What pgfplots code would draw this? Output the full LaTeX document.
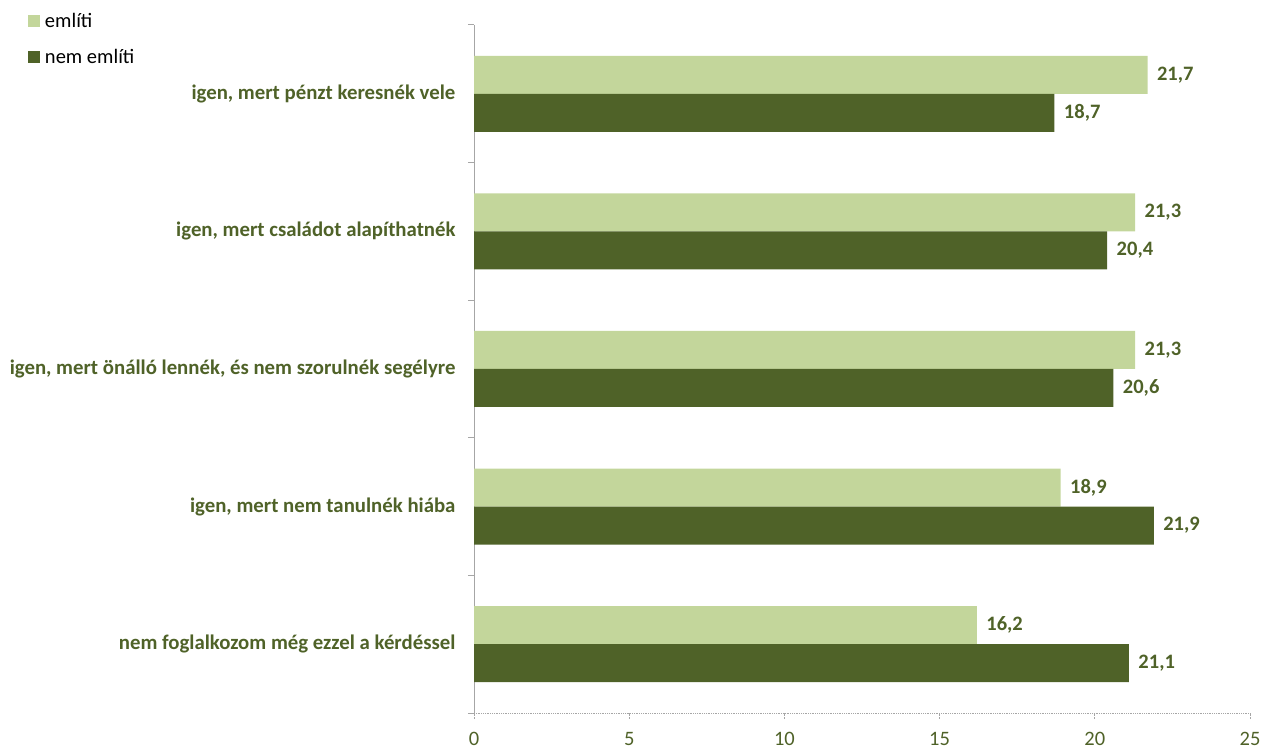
\documentclass[border=0pt]{standalone}
\usepackage{pgfplots}
\pgfplotsset{compat=1.18}
\usepackage{fontspec}
\setmainfont{Carlito}
\definecolor{lightg}{HTML}{C3D69B}
\definecolor{darkg}{HTML}{4F6228}
\definecolor{axgray}{HTML}{A6A6A6}
\begin{document}
\begin{tikzpicture}
\useasboundingbox (0,0) rectangle (1266bp,749bp);
\begin{axis}[
  at={(474bp,36bp)}, anchor=south west,
  scale only axis, width=776bp, height=688bp,
  xbar, bar width=38bp,
  xmin=0, xmax=25, ymin=-0.5, ymax=4.5,
  axis x line*=bottom, axis y line*=left,
  x axis line style={axgray, densely dotted, line width=0.8bp},
  y axis line style={axgray, line width=1bp},
  xtick={0,5,...,25},
  xticklabels={0,5,10,15,20,25},
  xtick style={axgray, densely dotted, line width=0.8bp},
  xticklabel style={font=\fontsize{20.5bp}{24bp}\selectfont, text=darkg, yshift=-11bp},
  ytick={0,1,2,3,4},
  yticklabels={nem foglalkozom még ezzel a kérdéssel, {igen, mert nem tanulnék hiába}, {igen, mert önálló lennék, és nem szorulnék segélyre}, {igen, mert családot alapíthatnék}, {igen, mert pénzt keresnék vele}},
  yticklabel style={font=\fontsize{20.8bp}{24bp}\selectfont\bfseries, text=darkg, xshift=-10bp},
  ytick style={draw=none},
  extra y ticks={-0.5,0.5,1.5,2.5,3.5,4.5},
  extra y tick labels={},
  extra y tick style={ytick style={axgray, line width=1bp, draw=axgray}, tick align=outside, major tick length=6bp},
  tick align=outside, major tick length=5bp,
  nodes near coords,
  every node near coord/.append style={font=\fontsize{20.5bp}{24bp}\selectfont\bfseries, text=darkg, xshift=6bp,
     /pgf/number format/.cd, use comma, fixed, fixed zerofill, precision=1, assume math mode=true},
  legend style={draw=none, at={(-0.575,1.02)}, anchor=north west, font=\fontsize{20.5bp}{24bp}\selectfont, row sep=16bp, fill=none, inner sep=0pt},
  legend cell align=left,
  legend image code/.code={\fill[#1] (0bp,-6bp) rectangle (12bp,6bp); \path (15bp,0);},
  clip=false,
]
\addplot[fill=lightg, draw=none, bar shift=19bp] coordinates {(16.2,0) (18.9,1) (21.3,2) (21.3,3) (21.7,4)};
\addplot[fill=darkg, draw=none, bar shift=-19bp] coordinates {(21.1,0) (21.9,1) (20.6,2) (20.4,3) (18.7,4)};
\legend{említi, nem említi}
\end{axis}
\end{tikzpicture}
\end{document}
